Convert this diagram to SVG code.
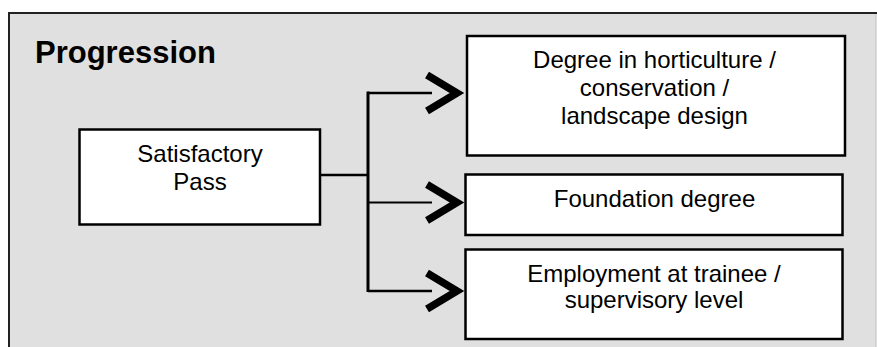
<svg xmlns="http://www.w3.org/2000/svg" width="877" height="347" viewBox="0 0 877 347">
<style>
.node rect{fill:#fff;stroke:#000;stroke-width:2.5}
.node text, .title{font-family:"Liberation Sans",Arial,sans-serif;fill:#000;text-anchor:middle}
.node text{font-size:24px}
.title{font-size:31px;font-weight:bold;text-anchor:start}
.conn line{stroke:#000;stroke-linecap:butt}
.conn polyline{fill:none;stroke:#000;stroke-width:7.5;stroke-linejoin:miter;stroke-miterlimit:10}
</style>
<rect width="877" height="347" fill="#fff"/>
<rect x="9" y="14" width="868" height="333" fill="#e0e0e0"/>
<line x1="9" y1="13" x2="877" y2="13" stroke="#222" stroke-width="2"/>
<line x1="9" y1="12" x2="9" y2="347" stroke="#222" stroke-width="2"/>
<line x1="875.5" y1="14" x2="875.5" y2="347" stroke="#cfcfcf" stroke-width="1"/>
<text class="title" x="35" y="63">Progression</text>
<g id="pass" class="node">
<rect x="79.5" y="129.5" width="240.5" height="95"/>
<text x="200" y="162">Satisfactory</text>
<text x="200" y="190">Pass</text>
</g>
<g id="degree" class="node">
<rect x="467" y="36" width="378" height="119.5"/>
<text x="654.5" y="68">Degree in horticulture /</text>
<text x="654.5" y="96">conservation /</text>
<text x="654.5" y="123.5">landscape design</text>
</g>
<g id="foundation" class="node">
<rect x="465.5" y="174.5" width="377" height="60.5"/>
<text x="654.5" y="207">Foundation degree</text>
</g>
<g id="employment" class="node">
<rect x="465.5" y="249.5" width="377" height="89.5"/>
<text x="654" y="282">Employment at trainee /</text>
<text x="654" y="308">supervisory level</text>
</g>
<g id="connectors" class="conn">
<line x1="321" y1="175" x2="368" y2="175" stroke-width="2.5"/>
<line x1="368" y1="91.5" x2="368" y2="292" stroke-width="3"/>
<line x1="368" y1="93" x2="432" y2="93" stroke-width="2.5"/>
<line x1="368" y1="202.5" x2="432" y2="202.5" stroke-width="2"/>
<line x1="368" y1="291" x2="432" y2="291" stroke-width="2.5"/>
<polyline points="427,75 457,93 427,111"/>
<polyline points="427,184.5 457,202.5 427,220.5"/>
<polyline points="427,273 457,291 427,309"/>
</g>
</svg>
